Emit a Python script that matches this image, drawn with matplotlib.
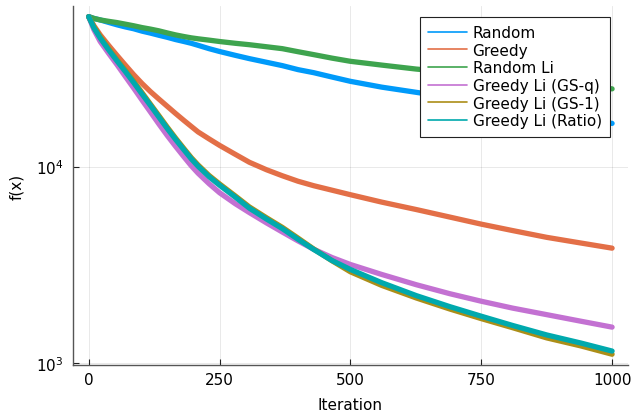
"""Objective value vs iteration for random / greedy coordinate selection rules."""

import matplotlib

matplotlib.use("Agg")
import matplotlib.pyplot as plt
from matplotlib.ticker import FixedLocator, LogFormatterMathtext, NullLocator

# Iteration checkpoints
iters = [0, 10, 22, 38, 54, 70, 86, 102, 118, 134, 150, 166, 182, 196, 209, 230,
         250, 280, 307, 340, 370, 400, 430, 465, 500, 560, 626, 690, 750, 810,
         875, 940, 1000]

random_f = [58100, 56900, 55900, 54300, 52800, 51500, 50400, 49000, 47900, 46700,
            45600, 44400, 43400, 42500, 41500, 39900, 38600, 36900, 35500, 34000,
            32700, 31200, 30100, 28600, 27200, 25400, 23900, 22500, 21200, 20000,
            18800, 17600, 16600]
greedy_f = [58100, 52200, 46900, 41500, 36900, 32900, 29400, 26500, 24100, 22100,
            20300, 18650, 17180, 16020, 15020, 13840, 12830, 11550, 10520, 9630,
            8980, 8420, 7990, 7580, 7190, 6590, 6040, 5530, 5090, 4720,
            4360, 4080, 3840]
random_li_f = [58100, 56900, 55900, 55000, 54200, 53200, 52200, 51100, 50200, 49200,
               48000, 46900, 46000, 45300, 44800, 44100, 43400, 42500, 41800, 40800,
               39900, 38500, 37200, 35700, 34400, 32900, 31400, 30300, 29100, 27900,
               26900, 25900, 24900]
greedy_li_gsq_f = [58100, 49800, 43400, 37800, 33100, 28800, 25100, 21800, 18980,
                   16500, 14410, 12680, 11210, 10090, 9250, 8180, 7360, 6470, 5830,
                   5160, 4640, 4180, 3790, 3440, 3170, 2820, 2500, 2250, 2060,
                   1900, 1760, 1630, 1520]
greedy_li_gs1_f = [58100, 51700, 45900, 40000, 35100, 31000, 27200, 23800, 20800,
                   18200, 15900, 13970, 12350, 11110, 10190, 9010, 8160, 7090, 6230,
                   5480, 4900, 4320, 3800, 3310, 2910, 2480, 2140, 1880, 1680,
                   1510, 1340, 1220, 1106]
greedy_li_ratio_f = [58100, 50900, 45200, 39400, 34600, 30500, 26800, 23400, 20500,
                     17900, 15650, 13760, 12170, 10950, 10040, 8880, 8040, 6990, 6140,
                     5400, 4830, 4260, 3780, 3320, 2990, 2560, 2200, 1933, 1728,
                     1550, 1387, 1262, 1148]

labels = ["Random", "Greedy", "Random Li", "Greedy Li (GS-q)",
          "Greedy Li (GS-1)", "Greedy Li (Ratio)"]
colors = ["#009AFA", "#E36F47", "#3EA44E", "#C371D2", "#AC8E18", "#00A9AD"]

x_ticks = [0, 250, 500, 750, 1000]
y_ticks = [1e3, 1e4]


def main() -> None:
    fig = plt.figure(figsize=(6.38, 4.14), dpi=100)
    ax = fig.add_axes([0.1144, 0.116, 0.8696, 0.867])

    series = [random_f, greedy_f, random_li_f, greedy_li_gsq_f,
              greedy_li_gs1_f, greedy_li_ratio_f]
    for ys, lab, col in zip(series, labels, colors):
        ax.plot(iters, ys, color=col, lw=3.8, label=lab,
                solid_capstyle="round", solid_joinstyle="round")

    ax.set_yscale("log")
    ax.set_xlim(-30, 1030)
    ax.set_ylim(975, 65800)
    ax.xaxis.set_major_locator(FixedLocator(x_ticks))
    ax.yaxis.set_major_locator(FixedLocator(y_ticks))
    ax.yaxis.set_major_formatter(LogFormatterMathtext())
    ax.yaxis.set_minor_locator(NullLocator())

    ax.grid(True, color="black", alpha=0.1, lw=0.6)
    ax.set_axisbelow(True)
    for side in ("top", "right"):
        ax.spines[side].set_visible(False)
    for side in ("left", "bottom"):
        ax.spines[side].set_color("#555555")
        ax.spines[side].set_linewidth(1.0)
    ax.tick_params(direction="in", length=4, width=0.8, labelsize=11,
                   colors="#222222", labelcolor="black")
    ax.tick_params(axis="y", pad=7)
    ax.tick_params(axis="x", pad=5)

    ax.set_xlabel("Iteration", fontsize=11, labelpad=7)
    ax.set_ylabel("f(x)", fontsize=11, labelpad=8)

    leg = ax.legend(loc="upper right", bbox_to_anchor=(0.968, 0.97),
                    borderaxespad=0, fontsize=11, fancybox=False,
                    framealpha=1, edgecolor="#222222", labelspacing=0.17,
                    handlelength=2.55, handletextpad=0.35, borderpad=0.55)
    leg.get_frame().set_linewidth(0.8)
    for line in leg.get_lines():
        line.set_linewidth(1.2)

    fig.savefig("out.png", dpi=100)
    plt.close(fig)


if __name__ == "__main__":
    main()
